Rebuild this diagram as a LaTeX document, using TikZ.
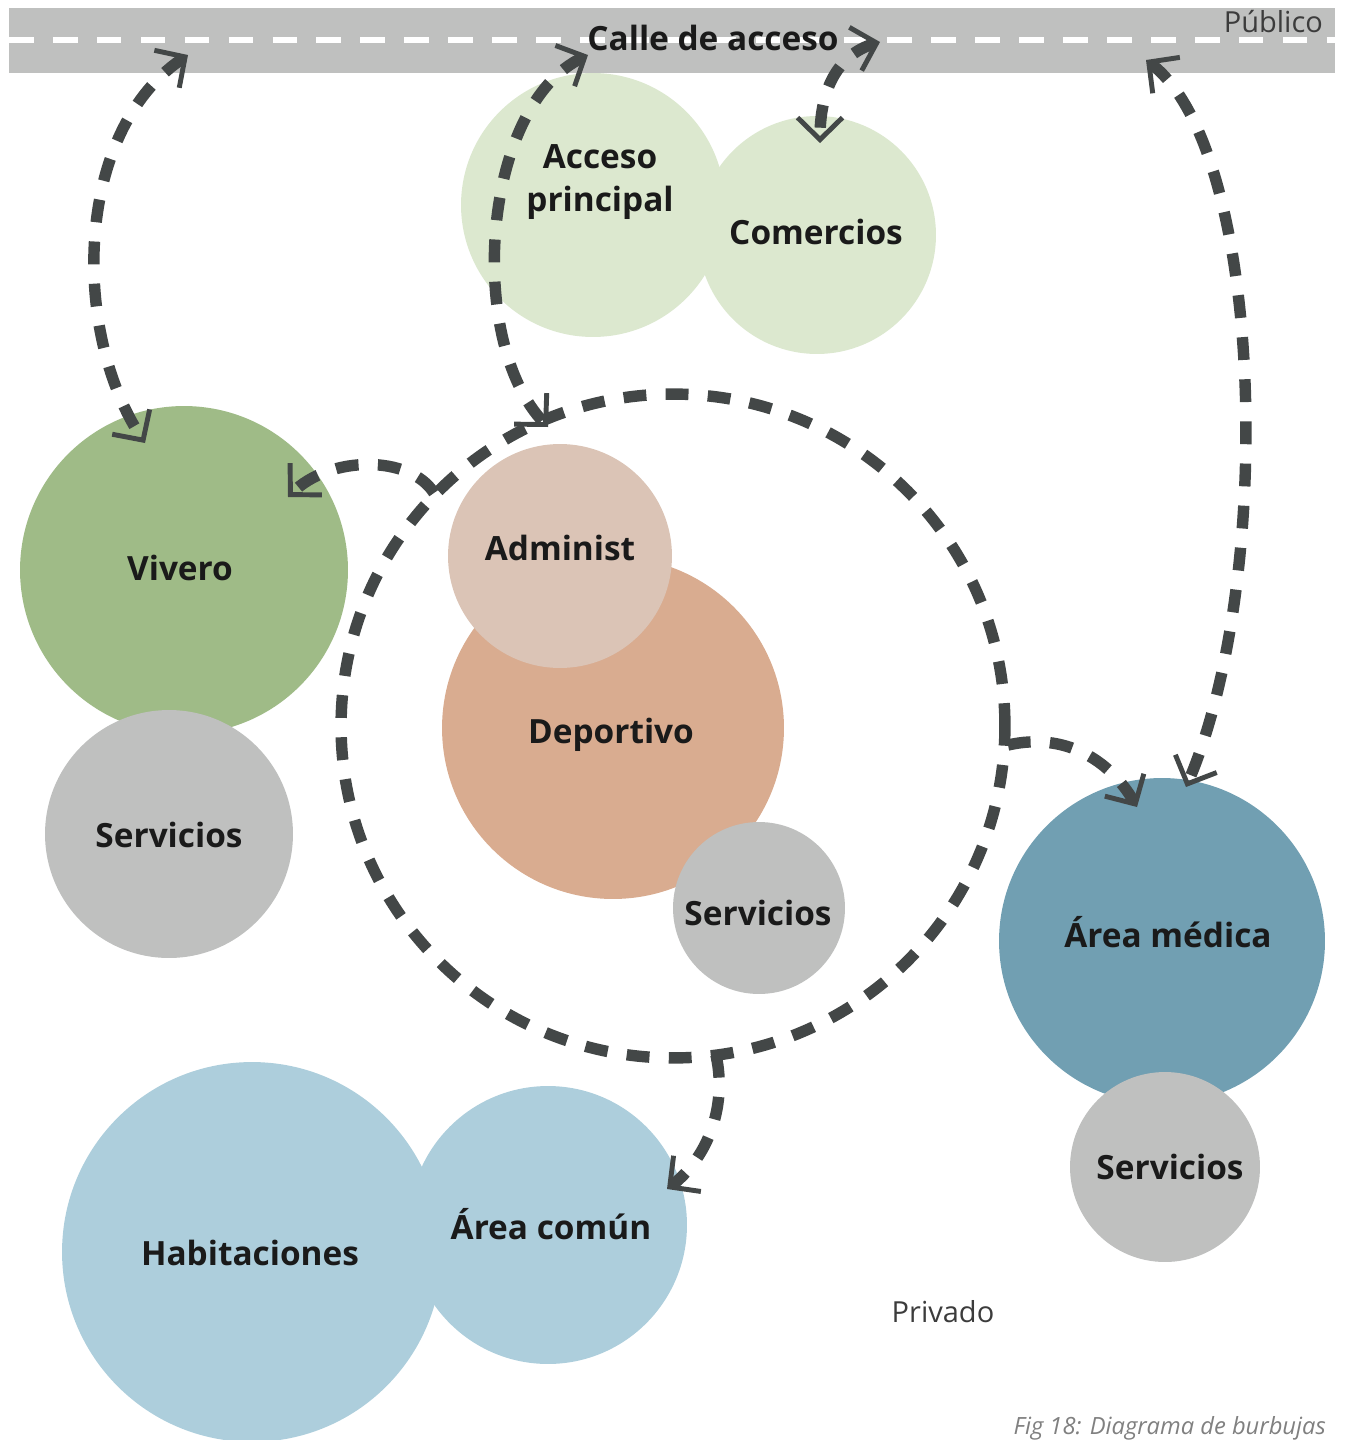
\documentclass[tikz,border=0pt]{standalone}
\usepackage{fontspec}
\setmainfont{Open Sans}
\usetikzlibrary{arrows.meta}
\definecolor{roadgray}{HTML}{BFC0BF}
\definecolor{lgreen}{HTML}{DCE8CF}
\definecolor{vgreen}{HTML}{9FBB87}
\definecolor{sgray}{HTML}{BFC0BF}
\definecolor{deport}{HTML}{D9AC90}
\definecolor{admin}{HTML}{DBC4B6}
\definecolor{medic}{HTML}{719FB2}
\definecolor{lblue}{HTML}{ADCEDC}
\definecolor{arrowc}{HTML}{434747}
\definecolor{txt}{HTML}{1A1A1A}
\tikzset{
  bub/.style={circle, inner sep=0pt, minimum size=#1, align=center, font=\fontsize{19}{24}\selectfont\bfseries, text=txt},
  flow/.style={draw=arrowc, line width=6.5pt, dash pattern=on 13pt off 11pt},
  vtip/.style={-{Straight Barb[length=0.44cm,width=0.9cm,line width=2.8pt]}},
  btip/.style={{Straight Barb[length=0.44cm,width=0.9cm,line width=2.8pt]}-{Straight Barb[length=0.44cm,width=0.9cm,line width=2.8pt]}},
  zone/.style={font=\fontsize{16.5}{18}\selectfont, text=txt!85}
}
\begin{document}
\begin{tikzpicture}[x=0.02cm,y=-0.02cm]
\useasboundingbox (0,0) rectangle (1345,1440);
% road
\node[fill=roadgray, minimum width=1326*0.02cm, minimum height=65*0.02cm, inner sep=0pt, anchor=north west] (road) at (9,8) {};
\draw[white, line width=3pt, dash pattern=on 14pt off 11pt] (road.west |- 0,40) coordinate (rw) -- (road.east |- 0,40) coordinate (re);
\node[font=\fontsize{19}{22}\selectfont\bfseries, text=txt] (calle) at (713,38) {Calle de acceso};
\node[zone, anchor=east] (publico) at (1329,22) {Público};
% bubbles
\node[bub=5.28cm, fill=lgreen] (acceso) at (593,205) {};
\node[bub=4.76cm, fill=lgreen] (comer) at (817,235) {};
\node[bub=6.56cm, fill=vgreen] (vivero) at (184,570) {};
\node[bub=4.96cm, fill=sgray] (servL) at (169,834) {};
\node[bub=6.84cm, fill=deport] (deport) at (613,728) {};
\node[bub=4.48cm, fill=admin] (admin) at (560,556) {};
\node[bub=3.44cm, fill=sgray] (servM) at (759,908) {};
\node[bub=6.52cm, fill=medic] (medica) at (1162,941) {};
\node[bub=3.8cm, fill=sgray] (servR) at (1165,1167) {};
\node[bub=7.6cm, fill=lblue] (habit) at (252,1252) {};
\node[bub=5.56cm, fill=lblue] (comun) at (548,1225) {};
% labels
\node[bub=1pt] (tacceso) at (600,182) {Acceso\\principal};
\node[bub=1pt] (tcomer) at (816,232) {Comercios};
\node[bub=1pt] (tvivero) at (180,568) {Vivero};
\node[bub=1pt] (tservL) at (169,835) {Servicios};
\node[bub=1pt] (tadmin) at (560,548) {Administ};
\node[bub=1pt] (tdeport) at (611,735) {Deportivo};
\node[bub=1pt] (tservM) at (758,913) {Servicios};
\node[bub=1pt] (tmedica) at (1168,932) {Área médica};
\node[bub=1pt] (tservR) at (1170,1167) {Servicios};
\node[bub=1pt] (thabit) at (250,1253) {Habitaciones};
\node[bub=1pt] (tcomun) at (551,1224) {Área común};
\node[zone] (privado) at (943,1312) {Privado};
\node[font=\fontsize{13.5}{15}\selectfont\itshape, text=gray, anchor=base east] (fig) at (1332,1434) {Fig 18: Diagrama de burbujas};
% big dashed loop
\node[circle, flow, minimum size=13.28cm, inner sep=0pt] (loop) at (673,726) {};
% connector end points
\coordinate (r1) at (188,55);
\coordinate (r2) at (588,55);
\coordinate (r3) at (880,42);
\coordinate (r4) at (1146,60);
\coordinate (v1) at (145,443);
\coordinate (v2) at (288,497);
\coordinate (l2) at (548,427);
\coordinate (c3) at (820,143);
\coordinate (m4) at (1186,787);
\coordinate (m7) at (1137,807);
\coordinate (a8) at (667,1189);
\coordinate (s6) at (434,493);
\coordinate (s7) at (1008,745);
\coordinate (s8) at (716,1055);
% connectors
\draw[flow, btip] (r1) .. controls (75,130) and (70,330) .. (v1);
\draw[flow, btip] (r2) .. controls (482,105) and (465,340) .. (l2);
\draw[flow, btip] (r3) .. controls (845,52) and (820,80) .. (c3);
\draw[flow, btip] (r4) .. controls (1265,150) and (1275,580) .. (m4);
\draw[flow, vtip] (s6) .. controls (410,455) and (330,455) .. (v2);
\draw[flow, vtip] (s7) .. controls (1065,732) and (1110,760) .. (m7);
\draw[flow, vtip] (s8) .. controls (728,1110) and (705,1160) .. (a8);
\end{tikzpicture}
\end{document}
